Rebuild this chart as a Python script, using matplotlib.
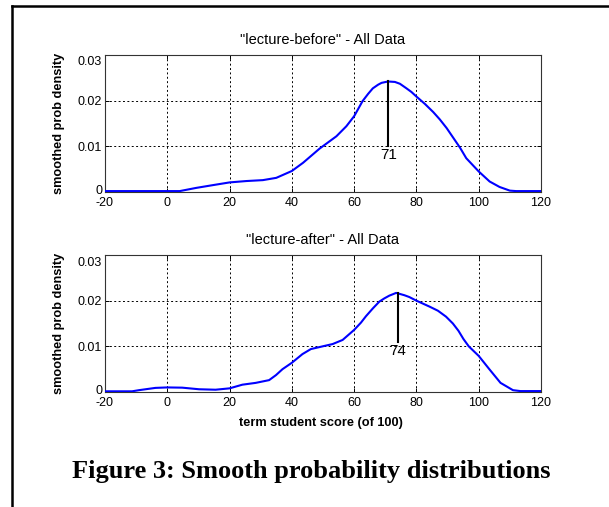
import matplotlib
matplotlib.use("Agg")
import matplotlib.pyplot as plt
from matplotlib.lines import Line2D
from matplotlib.transforms import ScaledTranslation

plt.rcParams["axes.unicode_minus"] = False

# smoothed densities
before_x = [-20, -10, 0, 4, 9.3, 14.6, 20, 25.4, 30.7, 35, 40, 43.6, 48.9, 54.3,
            57.5, 60, 62.7, 64.5, 66, 67.7, 68.8, 70.9, 73.1, 74.7, 76.8, 78.4,
            80, 82.7, 85.4, 87.5, 89.7, 91.8, 94, 96, 100, 103.5, 106.7, 110,
            112, 120]
before_y = [0.0002, 0.0002, 0.0002, 0.0002, 0.0009, 0.0015, 0.0021, 0.0024,
            0.0026, 0.0031, 0.0046, 0.0064, 0.0095, 0.0122, 0.0144, 0.0166,
            0.0199, 0.0215, 0.0227, 0.0235, 0.0239, 0.0242, 0.0241, 0.0237,
            0.0227, 0.0219, 0.0209, 0.0193, 0.0175, 0.0159, 0.0140, 0.0119,
            0.0097, 0.0074, 0.0045, 0.0023, 0.0011, 0.0003, 0.0002, 0.0002]

after_x = [-20, -11.3, -9.1, -3.8, 0, 4.8, 10.2, 15.5, 20, 24.1, 28.4, 32.7, 34.9,
           37, 40, 43.4, 46.1, 49.9, 53.1, 56.3, 60, 62.2, 63.8, 66, 68.1, 69.7,
           71.3, 73.5, 76.1, 77.7, 80, 84.2, 86.9, 89.5, 91.7, 93.5, 95.1, 96.8,
           100, 103.4, 107, 111, 113.4, 120]
after_y = [0.00015, 0.00015, 0.0004, 0.0009, 0.0010, 0.00095, 0.0006, 0.0005,
           0.0008, 0.0016, 0.0020, 0.0026, 0.0037, 0.0050, 0.0064, 0.0083,
           0.0094, 0.0100, 0.0105, 0.0114, 0.0136, 0.0152, 0.0166, 0.0183,
           0.0198, 0.0205, 0.0211, 0.0217, 0.0212, 0.0208, 0.0200, 0.0187,
           0.0178, 0.0165, 0.0150, 0.0134, 0.0116, 0.0100, 0.0079, 0.0050,
           0.0020, 0.0004, 0.0002, 0.0002]

titles = ['"lecture-before" - All Data', '"lecture-after" - All Data']
peak_x = [71, 74]
peak_top = [0.0242, 0.0217]
peak_bottom = [0.0100, 0.0109]

xticks = [-20, 0, 20, 40, 60, 80, 100, 120]
yticks = [0, 0.01, 0.02, 0.03]
ytick_labels = ["0", "0.01", "0.02", "0.03"]

sans = "Liberation Sans"

fig = plt.figure(figsize=(6.09, 5.07), dpi=100)

# page frame (left and top edge only are in view)
fig.add_artist(Line2D([12 / 609, 12 / 609], [0, 1 - 6 / 507], transform=fig.transFigure,
                      color="black", lw=1.8))
fig.add_artist(Line2D([12 / 609, 1], [1 - 6 / 507, 1 - 6 / 507], transform=fig.transFigure,
                      color="black", lw=1.8))

positions = [[105 / 609, 1 - 192 / 507, 436 / 609, 137 / 507],
             [105 / 609, 1 - 392 / 507, 436 / 609, 137 / 507]]
series = [(before_x, before_y), (after_x, after_y)]

for i, (xs, ys) in enumerate(series):
    ax = fig.add_axes(positions[i])
    ax.plot(xs, ys, color="#0000ff", lw=1.5, zorder=3, solid_joinstyle="round")
    ax.plot([peak_x[i], peak_x[i]], [peak_bottom[i], peak_top[i]], color="black",
            lw=1.5, zorder=4)
    ax.text(peak_x[i], peak_bottom[i] - 0.0003, str(peak_x[i]), ha="center", va="top",
            fontsize=11, family=sans, zorder=5)

    ax.set_xlim(-20, 120)
    ax.set_ylim(0, 0.03)
    ax.set_xticks(xticks)
    ax.set_yticks(yticks)
    ax.set_yticklabels(ytick_labels)
    ax.grid(True, color="black", linestyle=(0, (2, 2.5)), lw=0.7)
    ax.tick_params(direction="in", length=3, width=0.7, top=True, right=True,
                   labelsize=9)
    ax.tick_params(axis="x", pad=3.5)
    ax.tick_params(axis="y", pad=2)
    for lab in ax.get_xticklabels() + ax.get_yticklabels():
        lab.set_family(sans)
    # nudge end labels like the original: "0" up a little, "0.03" down
    ylabs = ax.get_yticklabels()
    ylabs[0].set_transform(ylabs[0].get_transform()
                           + ScaledTranslation(0, 2.5 / 100, fig.dpi_scale_trans))
    ylabs[-1].set_transform(ylabs[-1].get_transform()
                            + ScaledTranslation(0, -6 / 100, fig.dpi_scale_trans))
    for sp in ax.spines.values():
        sp.set_linewidth(0.8)
        sp.set_color("#333333")

    ax.text(0.5, 1.11, titles[i], transform=ax.transAxes, ha="center", va="center",
            fontsize=10.5, family=sans)
    ax.set_ylabel("smoothed prob density", fontsize=9.2, fontweight="bold", family=sans)
    ax.yaxis.set_label_coords(-0.092, 0.5)
    if i == 1:
        ax.set_xlabel("term student score (of 100)", fontsize=9.2, fontweight="bold",
                      family=sans, va="center")
        ax.xaxis.set_label_coords(0.495, -0.226)

fig.text(311 / 609, 1 - 471.5 / 507, "Figure 3: Smooth probability distributions",
         ha="center", va="center", fontsize=19, fontweight="bold",
         family="Liberation Serif")

fig.savefig("out.png", dpi=100)
